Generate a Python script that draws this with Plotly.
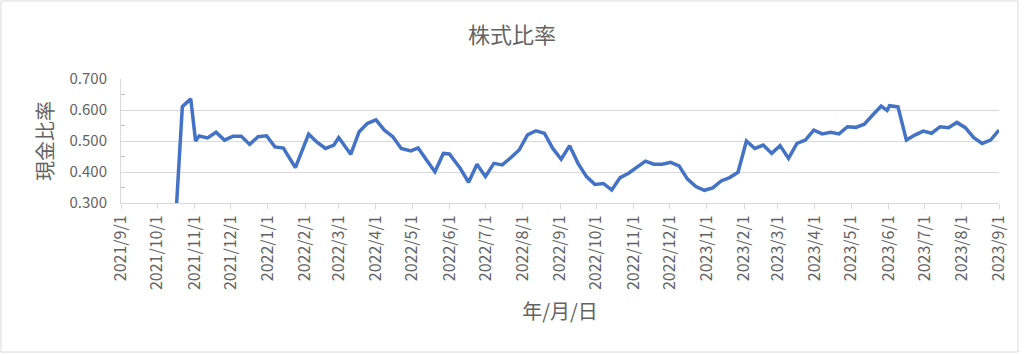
import plotly.graph_objects as go

dates = [
    "2021-10-15", "2021-10-22", "2021-10-29", "2021-11-02", "2021-11-05", "2021-11-12",
    "2021-11-19", "2021-11-26", "2021-12-03", "2021-12-10", "2021-12-17", "2021-12-24",
    "2021-12-31", "2022-01-07", "2022-01-14", "2022-01-24", "2022-02-04", "2022-02-11",
    "2022-02-18", "2022-02-25", "2022-03-01", "2022-03-11", "2022-03-18", "2022-03-25",
    "2022-04-01", "2022-04-08", "2022-04-15", "2022-04-22", "2022-04-30", "2022-05-06",
    "2022-05-13", "2022-05-20", "2022-05-27", "2022-06-01", "2022-06-10", "2022-06-17",
    "2022-06-24", "2022-07-01", "2022-07-08", "2022-07-15", "2022-07-22", "2022-07-29",
    "2022-08-05", "2022-08-12", "2022-08-19", "2022-08-26", "2022-09-02", "2022-09-09",
    "2022-09-16", "2022-09-23", "2022-09-30", "2022-10-07", "2022-10-14", "2022-10-21",
    "2022-10-28", "2022-11-04", "2022-11-11", "2022-11-18", "2022-11-25", "2022-12-02",
    "2022-12-09", "2022-12-16", "2022-12-23", "2022-12-30", "2023-01-06", "2023-01-13",
    "2023-01-20", "2023-01-27", "2023-02-03", "2023-02-10", "2023-02-17", "2023-02-24",
    "2023-03-03", "2023-03-10", "2023-03-17", "2023-03-24", "2023-03-31", "2023-04-07",
    "2023-04-14", "2023-04-21", "2023-04-28", "2023-05-05", "2023-05-12", "2023-05-19",
    "2023-05-26", "2023-05-31", "2023-06-02", "2023-06-09", "2023-06-16", "2023-06-23",
    "2023-06-30", "2023-07-07", "2023-07-14", "2023-07-21", "2023-07-28", "2023-08-04",
    "2023-08-11", "2023-08-18", "2023-08-25", "2023-09-01",
]

ratio = [
    0.150, 0.611, 0.636, 0.500, 0.516, 0.510,
    0.528, 0.503, 0.515, 0.515, 0.489, 0.514,
    0.517, 0.481, 0.477, 0.414, 0.522, 0.496,
    0.476, 0.487, 0.511, 0.457, 0.530, 0.557,
    0.568, 0.535, 0.514, 0.476, 0.468, 0.478,
    0.439, 0.401, 0.460, 0.458, 0.412, 0.367,
    0.425, 0.385, 0.428, 0.423, 0.446, 0.471,
    0.520, 0.533, 0.525, 0.476, 0.441, 0.485,
    0.428, 0.385, 0.360, 0.363, 0.342, 0.382,
    0.396, 0.417, 0.435, 0.425, 0.425, 0.431,
    0.420, 0.377, 0.353, 0.341, 0.349, 0.371,
    0.382, 0.399, 0.500, 0.476, 0.487, 0.460,
    0.485, 0.444, 0.492, 0.503, 0.535, 0.523,
    0.528, 0.523, 0.546, 0.544, 0.554, 0.584,
    0.613, 0.599, 0.614, 0.610, 0.503, 0.519,
    0.532, 0.525, 0.546, 0.543, 0.560, 0.543,
    0.511, 0.492, 0.503, 0.535,
]

tick_dates = [
    "2021-09-01", "2021-10-01", "2021-11-01", "2021-12-01", "2022-01-01", "2022-02-01",
    "2022-03-01", "2022-04-01", "2022-05-01", "2022-06-01", "2022-07-01", "2022-08-01",
    "2022-09-01", "2022-10-01", "2022-11-01", "2022-12-01", "2023-01-01", "2023-02-01",
    "2023-03-01", "2023-04-01", "2023-05-01", "2023-06-01", "2023-07-01", "2023-08-01",
    "2023-09-01",
]
tick_labels = [
    "2021/9/1", "2021/10/1", "2021/11/1", "2021/12/1", "2022/1/1", "2022/2/1",
    "2022/3/1", "2022/4/1", "2022/5/1", "2022/6/1", "2022/7/1", "2022/8/1",
    "2022/9/1", "2022/10/1", "2022/11/1", "2022/12/1", "2023/1/1", "2023/2/1",
    "2023/3/1", "2023/4/1", "2023/5/1", "2023/6/1", "2023/7/1", "2023/8/1",
    "2023/9/1",
]

FONT = "Noto Sans CJK JP"
GRAY = "#636363"

fig = go.Figure()
fig.add_trace(go.Scatter(
    x=dates, y=ratio, mode="lines",
    line=dict(color="#4472C4", width=3.5),
    hoverinfo="x+y", showlegend=False,
))

L, R, T, B = 121, 25, 79, 151
W, H = 1024, 354
pw, ph = W - L - R, H - T - B

fig.update_layout(
    width=W, height=H,
    margin=dict(l=L, r=R, t=T, b=B),
    paper_bgcolor="white", plot_bgcolor="white",
    font=dict(family=FONT, color=GRAY, size=15),
    title=dict(text="株式比率", x=0.5, xanchor="center", y=1 - 35 / H, yanchor="middle",
               font=dict(size=22, color=GRAY, family=FONT)),
    xaxis=dict(
        type="date",
        range=["2021-09-01", "2023-09-01"],
        tickmode="array", tickvals=tick_dates, ticktext=tick_labels,
        tickangle=-90, tickfont=dict(size=16, color=GRAY),
        showgrid=False, showline=True, linecolor="#d9d9d9", linewidth=1,
        ticks="outside", ticklen=5, tickcolor="#d9d9d9",
        title=dict(text="年/月/日", font=dict(size=20, color=GRAY), standoff=15),
        zeroline=False,
    ),
    yaxis=dict(
        range=[0.3, 0.7], tickmode="linear", tick0=0.3, dtick=0.1,
        tickformat=".3f", tickfont=dict(size=15, color=GRAY),
        showgrid=True, gridcolor="#d9d9d9", gridwidth=1,
        showline=True, linecolor="#d9d9d9", linewidth=1,
        ticks="", ticklabelstandoff=10,
        minor=dict(dtick=0.05, tick0=0.3, ticks="inside", ticklen=4, tickcolor="#bfbfbf",
                   showgrid=False),
        title=dict(text="現金比率", font=dict(size=20, color=GRAY), standoff=10),
        zeroline=False,
    ),
)

fig.add_shape(
    type="rect", xref="paper", yref="paper",
    x0=(1 - L) / pw, x1=(1018 - L) / pw,
    y0=(T + ph - 352) / ph, y1=(T + ph - 1) / ph,
    line=dict(color="#d9d9d9", width=1), fillcolor="rgba(0,0,0,0)", layer="below",
)

fig.write_html("out.html")
